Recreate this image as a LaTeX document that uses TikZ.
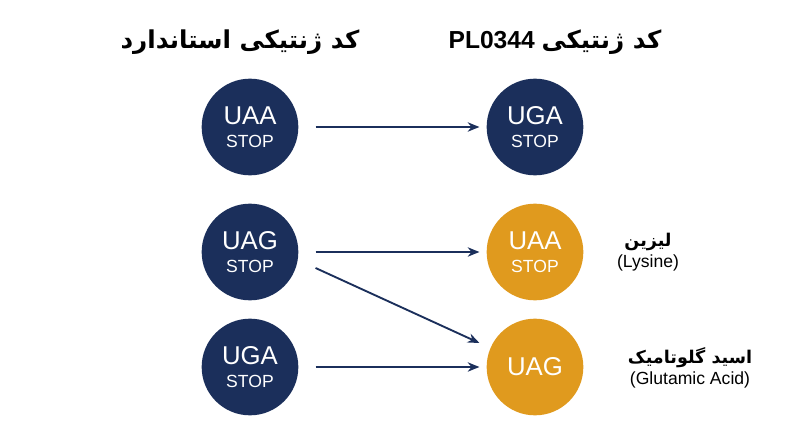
\documentclass[tikz,border=0pt]{standalone}
\usepackage{fontspec}
\setmainfont{Liberation Sans}
\newfontfamily\fa[Script=Arabic]{DejaVu Sans}
\usetikzlibrary{arrows.meta,calc}
\TeXXeTstate=1
\newcommand{\rtl}[1]{{\fa\beginR #1\endR}}
\definecolor{navy}{HTML}{1B2F5B}
\definecolor{gold}{HTML}{E09A1E}
\begin{document}
\begin{tikzpicture}[x=0.03cm,y=-0.03cm,
  cod/.style={circle,minimum size=2.9cm,inner sep=0pt,text=white,align=center,font=\fontsize{22}{22}\selectfont},
  nv/.style={cod,fill=navy}, gd/.style={cod,fill=gold},
  arr/.style={draw=navy,line width=1.6pt,-{Stealth[length=10pt,width=8pt]}},
  ttl/.style={font=\bfseries\fontsize{21}{24}\selectfont,text=black},
  lab/.style={font=\fontsize{15}{18}\selectfont,align=center}]
\useasboundingbox (0,0) rectangle (800,447);
\newcommand{\st}{\\[-2pt]{\fontsize{15}{16}\selectfont STOP}}
\node[ttl] (tl) at (240,42) {\rtl{\bfseries کد ژنتیکی استاندارد}};
\node[ttl] (tr) at (555,42) {PL0344 \rtl{\bfseries کد ژنتیکی}};
\node[nv] (a) at (250,127) {UAA\st};
\node[nv] (b) at (250,252) {UAG\st};
\node[nv] (c) at (250,367) {UGA\st};
\node[nv] (d) at (535,127) {UGA\st};
\node[gd] (e) at (535,252) {UAA\st};
\node[gd] (f) at (535,367) {UAG};
\node[lab] (l1) at (648,252) {\rtl{\bfseries لیزین}\\(Lysine)};
\node[lab] (l2) at (690,368) {\rtl{\bfseries اسید گلوتامیک}\\(Glutamic Acid)};
\draw[arr] ($(a.east)+(17,0)$) -- ($(d.west)+(-7,0)$);
\draw[arr] ($(b.east)+(17,0)$) -- ($(e.west)+(-7,0)$);
\draw[arr] ($(c.east)+(17,0)$) -- ($(f.west)+(-7,0)$);
\draw[arr] ($(b.east)+(17,16)$) -- ($(f.west)+(-7,-24)$);
\end{tikzpicture}
\end{document}
